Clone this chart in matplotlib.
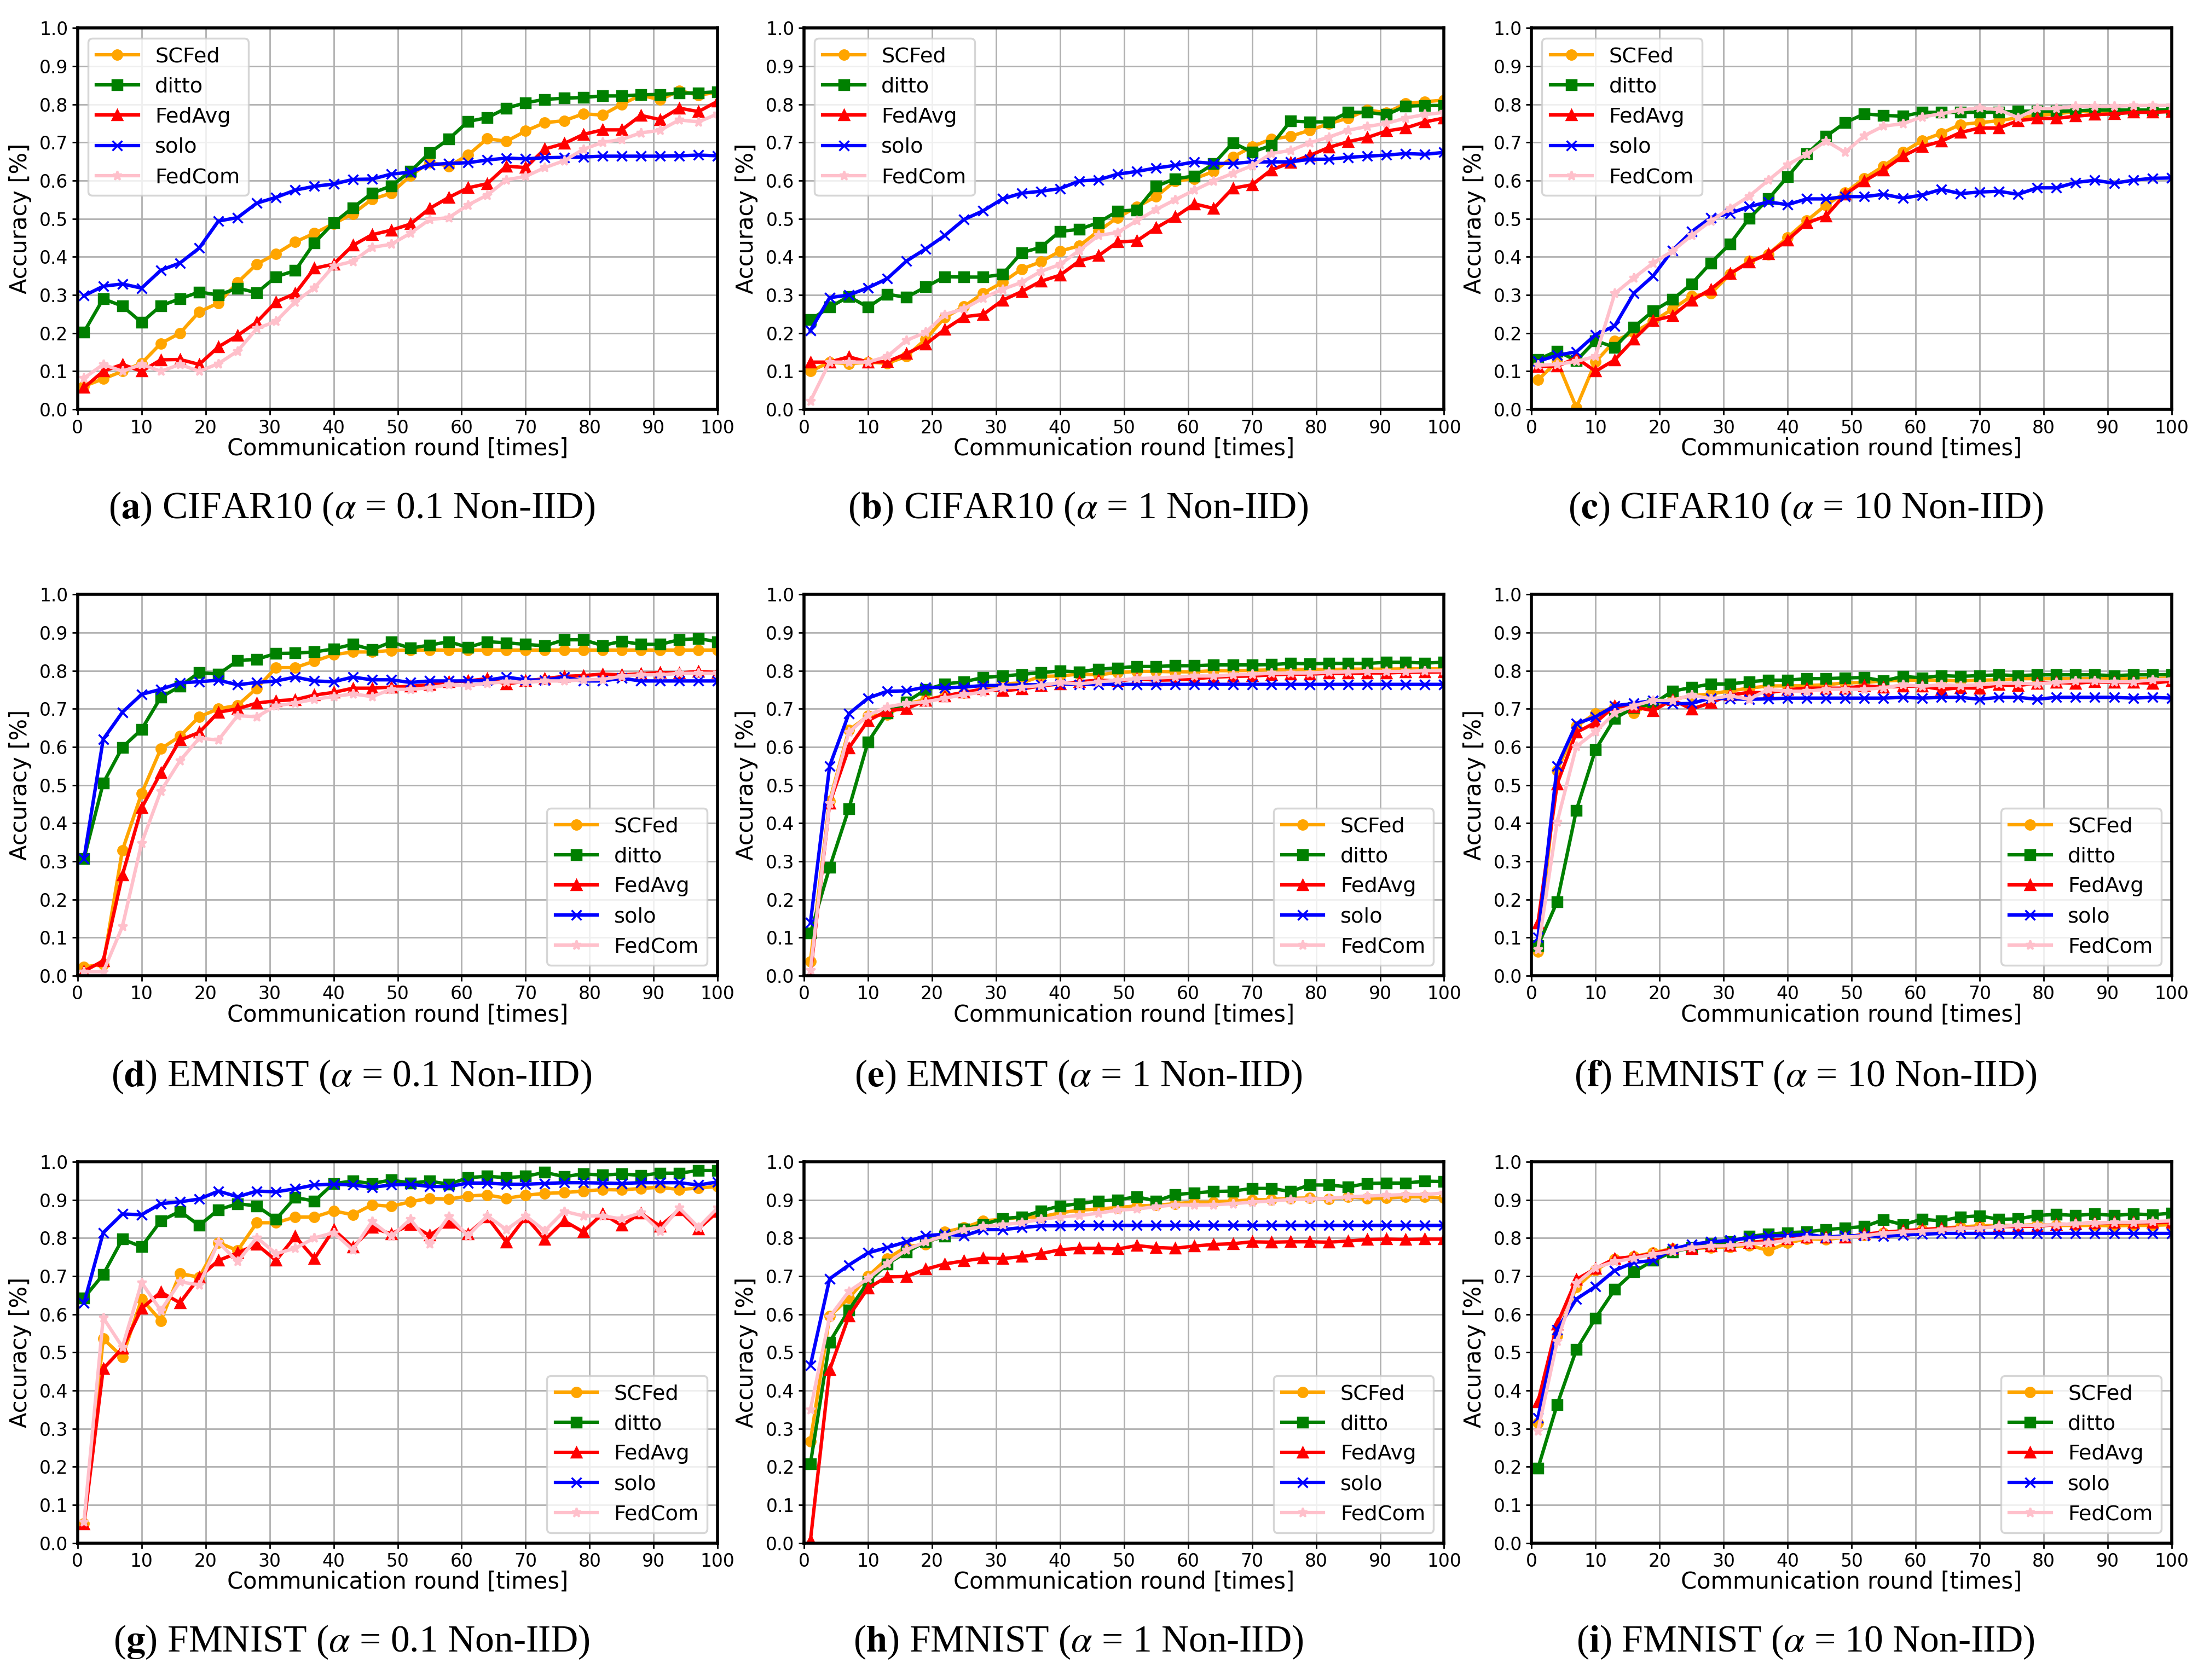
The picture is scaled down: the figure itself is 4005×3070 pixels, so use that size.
import numpy as np
import matplotlib
matplotlib.use("Agg")
import matplotlib.pyplot as plt

rounds = list(range(1, 101, 3))
methods = ["SCFed", "ditto", "FedAvg", "solo", "FedCom"]

# (a) CIFAR10 alpha=0.1
a_scfed = [0.061, 0.08, 0.10, 0.121, 0.173, 0.20, 0.256, 0.279, 0.333, 0.381, 0.408, 0.439, 0.462, 0.487, 0.513, 0.551, 0.567,
           0.613, 0.648, 0.638, 0.667, 0.71, 0.703, 0.73, 0.752, 0.757, 0.775, 0.772, 0.80, 0.824, 0.812, 0.836, 0.824, 0.832]
a_ditto = [0.203, 0.29, 0.271, 0.228, 0.272, 0.29, 0.308, 0.30, 0.318, 0.306, 0.348, 0.364, 0.437, 0.489, 0.529, 0.567, 0.586,
           0.624, 0.673, 0.709, 0.755, 0.765, 0.79, 0.804, 0.813, 0.816, 0.818, 0.822, 0.822, 0.825, 0.826, 0.829, 0.83, 0.833]
a_fedavg = [0.057, 0.10, 0.118, 0.10, 0.13, 0.131, 0.118, 0.164, 0.194, 0.229, 0.282, 0.304, 0.37, 0.381, 0.43, 0.458, 0.47,
            0.486, 0.527, 0.556, 0.581, 0.592, 0.638, 0.634, 0.683, 0.697, 0.721, 0.733, 0.733, 0.771, 0.76, 0.79, 0.781, 0.808]
a_solo = [0.298, 0.323, 0.329, 0.318, 0.365, 0.384, 0.423, 0.494, 0.503, 0.541, 0.556, 0.575, 0.585, 0.591, 0.603, 0.604, 0.617,
          0.622, 0.642, 0.645, 0.647, 0.654, 0.659, 0.657, 0.66, 0.661, 0.662, 0.664, 0.664, 0.664, 0.664, 0.665, 0.667, 0.665]
a_fedcom = [0.082, 0.118, 0.10, 0.118, 0.10, 0.118, 0.10, 0.12, 0.153, 0.212, 0.231, 0.282, 0.319, 0.376, 0.388, 0.425, 0.433,
            0.462, 0.498, 0.503, 0.536, 0.562, 0.602, 0.611, 0.634, 0.652, 0.682, 0.70, 0.708, 0.725, 0.732, 0.759, 0.754, 0.775]

# (b) CIFAR10 alpha=1
b_scfed = [0.10, 0.124, 0.12, 0.124, 0.121, 0.139, 0.184, 0.241, 0.27, 0.305, 0.333, 0.368, 0.387, 0.415, 0.429, 0.468, 0.503,
           0.531, 0.558, 0.599, 0.605, 0.624, 0.662, 0.689, 0.709, 0.716, 0.732, 0.749, 0.764, 0.785, 0.778, 0.802, 0.807, 0.811]
b_ditto = [0.235, 0.268, 0.296, 0.268, 0.302, 0.294, 0.321, 0.348, 0.347, 0.347, 0.354, 0.411, 0.425, 0.467, 0.472, 0.49, 0.52,
           0.523, 0.585, 0.605, 0.612, 0.644, 0.699, 0.675, 0.692, 0.756, 0.754, 0.754, 0.779, 0.779, 0.773, 0.795, 0.797, 0.797]
b_fedavg = [0.124, 0.124, 0.138, 0.124, 0.125, 0.146, 0.171, 0.21, 0.243, 0.249, 0.286, 0.309, 0.336, 0.352, 0.389, 0.403, 0.439,
            0.442, 0.476, 0.505, 0.539, 0.527, 0.58, 0.589, 0.628, 0.647, 0.666, 0.687, 0.702, 0.713, 0.73, 0.738, 0.754, 0.764]
b_solo = [0.207, 0.293, 0.30, 0.319, 0.343, 0.389, 0.421, 0.456, 0.498, 0.521, 0.552, 0.567, 0.572, 0.579, 0.599, 0.602, 0.617,
          0.624, 0.633, 0.64, 0.649, 0.645, 0.645, 0.649, 0.649, 0.649, 0.656, 0.656, 0.661, 0.664, 0.667, 0.671, 0.669, 0.674]
b_fedcom = [0.022, 0.124, 0.124, 0.124, 0.139, 0.181, 0.202, 0.249, 0.264, 0.292, 0.315, 0.333, 0.362, 0.38, 0.417, 0.456, 0.464,
            0.495, 0.524, 0.55, 0.575, 0.599, 0.619, 0.639, 0.671, 0.679, 0.699, 0.714, 0.732, 0.742, 0.75, 0.764, 0.773, 0.779]

# (c) CIFAR10 alpha=10
c_scfed = [0.077, 0.126, 0.005, 0.125, 0.18, 0.202, 0.231, 0.263, 0.297, 0.304, 0.354, 0.389, 0.407, 0.451, 0.495, 0.536, 0.568,
           0.606, 0.638, 0.674, 0.705, 0.724, 0.747, 0.752, 0.757, 0.765, 0.771, 0.775, 0.781, 0.781, 0.781, 0.781, 0.782, 0.782]
c_ditto = [0.131, 0.153, 0.128, 0.18, 0.163, 0.216, 0.258, 0.288, 0.329, 0.384, 0.434, 0.501, 0.552, 0.61, 0.67, 0.716, 0.752,
           0.775, 0.771, 0.769, 0.779, 0.779, 0.779, 0.779, 0.779, 0.782, 0.782, 0.782, 0.783, 0.785, 0.785, 0.785, 0.785, 0.786]
c_fedavg = [0.112, 0.113, 0.135, 0.10, 0.13, 0.184, 0.233, 0.245, 0.286, 0.315, 0.356, 0.386, 0.408, 0.444, 0.489, 0.507, 0.564,
            0.599, 0.628, 0.664, 0.689, 0.703, 0.726, 0.738, 0.738, 0.757, 0.763, 0.763, 0.769, 0.773, 0.775, 0.779, 0.779, 0.781]
c_solo = [0.126, 0.142, 0.151, 0.196, 0.219, 0.305, 0.35, 0.417, 0.466, 0.503, 0.514, 0.532, 0.544, 0.537, 0.552, 0.552, 0.558,
          0.558, 0.564, 0.554, 0.562, 0.577, 0.566, 0.57, 0.572, 0.564, 0.581, 0.581, 0.595, 0.601, 0.593, 0.601, 0.606, 0.607]
c_fedcom = [0.116, 0.118, 0.126, 0.139, 0.304, 0.345, 0.384, 0.415, 0.456, 0.494, 0.527, 0.559, 0.601, 0.642, 0.669, 0.704, 0.674,
            0.718, 0.743, 0.749, 0.767, 0.775, 0.785, 0.791, 0.786, 0.765, 0.789, 0.789, 0.795, 0.795, 0.795, 0.797, 0.797, 0.797]

# (d) EMNIST alpha=0.1
d_scfed = [0.023, 0.03, 0.329, 0.478, 0.595, 0.628, 0.679, 0.70, 0.709, 0.754, 0.808, 0.808, 0.825, 0.842, 0.849, 0.849, 0.853,
           0.854, 0.854, 0.854, 0.854, 0.854, 0.854, 0.854, 0.854, 0.854, 0.854, 0.854, 0.854, 0.854, 0.854, 0.854, 0.854, 0.854]
d_ditto = [0.307, 0.505, 0.599, 0.646, 0.73, 0.759, 0.795, 0.791, 0.826, 0.83, 0.845, 0.846, 0.849, 0.857, 0.869, 0.855, 0.875,
           0.859, 0.867, 0.876, 0.861, 0.876, 0.873, 0.869, 0.865, 0.881, 0.881, 0.866, 0.877, 0.869, 0.869, 0.881, 0.884, 0.876]
d_fedavg = [0.012, 0.039, 0.264, 0.44, 0.532, 0.618, 0.638, 0.691, 0.70, 0.715, 0.721, 0.724, 0.736, 0.743, 0.754, 0.754, 0.757,
            0.759, 0.763, 0.771, 0.773, 0.779, 0.765, 0.773, 0.779, 0.785, 0.787, 0.791, 0.789, 0.792, 0.795, 0.794, 0.798, 0.795]
d_solo = [0.307, 0.62, 0.691, 0.738, 0.751, 0.768, 0.771, 0.775, 0.763, 0.769, 0.773, 0.783, 0.773, 0.771, 0.783, 0.776, 0.776,
          0.769, 0.773, 0.773, 0.773, 0.775, 0.783, 0.776, 0.775, 0.783, 0.773, 0.773, 0.78, 0.773, 0.773, 0.773, 0.773, 0.773]
d_fedcom = [0.01, 0.01, 0.129, 0.348, 0.484, 0.564, 0.623, 0.618, 0.682, 0.679, 0.708, 0.715, 0.725, 0.732, 0.739, 0.732, 0.751,
            0.751, 0.755, 0.763, 0.761, 0.767, 0.771, 0.769, 0.773, 0.773, 0.776, 0.777, 0.785, 0.789, 0.789, 0.793, 0.793, 0.793]

# (e) EMNIST alpha=1
e_scfed = [0.038, 0.458, 0.644, 0.681, 0.685, 0.713, 0.724, 0.734, 0.742, 0.75, 0.765, 0.768, 0.785, 0.786, 0.791, 0.789, 0.795,
           0.798, 0.798, 0.797, 0.797, 0.80, 0.80, 0.801, 0.802, 0.803, 0.803, 0.803, 0.804, 0.804, 0.804, 0.805, 0.805, 0.805]
e_ditto = [0.112, 0.284, 0.438, 0.613, 0.689, 0.718, 0.75, 0.765, 0.771, 0.782, 0.786, 0.79, 0.795, 0.799, 0.797, 0.804, 0.807,
           0.811, 0.811, 0.813, 0.813, 0.815, 0.815, 0.815, 0.816, 0.819, 0.818, 0.819, 0.819, 0.819, 0.822, 0.822, 0.82, 0.822]
e_fedavg = [0.005, 0.452, 0.597, 0.669, 0.695, 0.70, 0.722, 0.734, 0.743, 0.752, 0.747, 0.752, 0.76, 0.765, 0.771, 0.775, 0.773,
            0.779, 0.775, 0.776, 0.779, 0.783, 0.785, 0.786, 0.789, 0.791, 0.791, 0.793, 0.793, 0.794, 0.794, 0.796, 0.796, 0.797]
e_solo = [0.139, 0.55, 0.687, 0.728, 0.746, 0.747, 0.757, 0.755, 0.757, 0.761, 0.761, 0.763, 0.763, 0.765, 0.764, 0.764, 0.764,
          0.764, 0.764, 0.764, 0.764, 0.764, 0.764, 0.764, 0.764, 0.764, 0.764, 0.764, 0.764, 0.764, 0.764, 0.764, 0.764, 0.764]
e_fedcom = [0.014, 0.452, 0.638, 0.683, 0.705, 0.714, 0.718, 0.728, 0.737, 0.744, 0.755, 0.757, 0.761, 0.769, 0.765, 0.771, 0.775,
            0.779, 0.781, 0.783, 0.786, 0.786, 0.789, 0.791, 0.793, 0.794, 0.794, 0.796, 0.797, 0.798, 0.798, 0.798, 0.80, 0.80]

# (f) EMNIST alpha=10
f_scfed = [0.063, 0.538, 0.654, 0.688, 0.704, 0.689, 0.716, 0.724, 0.734, 0.739, 0.747, 0.754, 0.76, 0.76, 0.761, 0.763, 0.768,
           0.769, 0.773, 0.775, 0.775, 0.775, 0.773, 0.775, 0.776, 0.779, 0.779, 0.779, 0.779, 0.779, 0.779, 0.779, 0.779, 0.781]
f_ditto = [0.079, 0.194, 0.434, 0.593, 0.675, 0.703, 0.713, 0.746, 0.756, 0.765, 0.765, 0.771, 0.775, 0.775, 0.779, 0.779, 0.781,
           0.782, 0.773, 0.785, 0.781, 0.787, 0.785, 0.787, 0.789, 0.787, 0.789, 0.789, 0.789, 0.789, 0.787, 0.789, 0.789, 0.79]
f_fedavg = [0.138, 0.503, 0.638, 0.664, 0.707, 0.705, 0.695, 0.724, 0.699, 0.716, 0.736, 0.743, 0.742, 0.75, 0.754, 0.754, 0.754,
            0.76, 0.757, 0.759, 0.759, 0.751, 0.755, 0.754, 0.763, 0.761, 0.767, 0.769, 0.767, 0.771, 0.769, 0.769, 0.767, 0.773]
f_solo = [0.10, 0.55, 0.661, 0.679, 0.708, 0.714, 0.722, 0.713, 0.714, 0.728, 0.726, 0.725, 0.726, 0.728, 0.728, 0.728, 0.728,
          0.728, 0.728, 0.73, 0.728, 0.73, 0.73, 0.725, 0.73, 0.73, 0.725, 0.73, 0.73, 0.73, 0.73, 0.728, 0.73, 0.728]
f_fedcom = [0.069, 0.403, 0.601, 0.64, 0.689, 0.708, 0.722, 0.722, 0.736, 0.726, 0.734, 0.725, 0.751, 0.746, 0.746, 0.751, 0.751,
            0.751, 0.755, 0.763, 0.759, 0.763, 0.761, 0.763, 0.767, 0.767, 0.765, 0.769, 0.773, 0.773, 0.771, 0.771, 0.776, 0.777]

# (g) FMNIST alpha=0.1
g_scfed = [0.052, 0.536, 0.488, 0.64, 0.583, 0.707, 0.697, 0.788, 0.767, 0.84, 0.84, 0.855, 0.855, 0.871, 0.861, 0.887, 0.883,
           0.895, 0.904, 0.902, 0.91, 0.913, 0.904, 0.912, 0.917, 0.919, 0.923, 0.927, 0.926, 0.93, 0.933, 0.927, 0.931, 0.935]
g_ditto = [0.643, 0.704, 0.797, 0.777, 0.845, 0.87, 0.833, 0.874, 0.89, 0.884, 0.849, 0.906, 0.897, 0.943, 0.949, 0.943, 0.952,
           0.944, 0.949, 0.941, 0.958, 0.962, 0.958, 0.962, 0.972, 0.961, 0.968, 0.965, 0.968, 0.964, 0.97, 0.97, 0.977, 0.977]
g_fedavg = [0.05, 0.457, 0.511, 0.615, 0.658, 0.63, 0.697, 0.741, 0.761, 0.783, 0.741, 0.804, 0.746, 0.822, 0.776, 0.827, 0.811,
            0.835, 0.807, 0.841, 0.811, 0.855, 0.789, 0.855, 0.796, 0.845, 0.816, 0.864, 0.833, 0.865, 0.831, 0.873, 0.824, 0.869]
g_solo = [0.629, 0.814, 0.863, 0.861, 0.89, 0.895, 0.902, 0.923, 0.908, 0.923, 0.921, 0.929, 0.939, 0.941, 0.939, 0.933, 0.939,
          0.941, 0.935, 0.935, 0.944, 0.944, 0.941, 0.941, 0.943, 0.945, 0.945, 0.944, 0.943, 0.945, 0.945, 0.945, 0.939, 0.947]
g_fedcom = [0.055, 0.591, 0.514, 0.683, 0.61, 0.685, 0.677, 0.789, 0.738, 0.801, 0.759, 0.773, 0.80, 0.814, 0.769, 0.843, 0.804,
            0.849, 0.785, 0.857, 0.806, 0.858, 0.822, 0.858, 0.819, 0.87, 0.858, 0.858, 0.85, 0.866, 0.818, 0.879, 0.828, 0.879]

# (h) FMNIST alpha=1
h_scfed = [0.267, 0.595, 0.642, 0.70, 0.746, 0.777, 0.783, 0.816, 0.827, 0.845, 0.849, 0.855, 0.855, 0.866, 0.873, 0.876, 0.88,
           0.884, 0.886, 0.89, 0.894, 0.894, 0.897, 0.90, 0.901, 0.904, 0.905, 0.902, 0.908, 0.904, 0.905, 0.908, 0.908, 0.905]
h_ditto = [0.208, 0.527, 0.611, 0.685, 0.732, 0.763, 0.79, 0.804, 0.824, 0.835, 0.851, 0.855, 0.871, 0.884, 0.89, 0.897, 0.90,
           0.908, 0.897, 0.914, 0.918, 0.922, 0.923, 0.93, 0.93, 0.922, 0.939, 0.939, 0.934, 0.943, 0.944, 0.944, 0.949, 0.948]
h_fedavg = [0.007, 0.454, 0.595, 0.669, 0.698, 0.699, 0.718, 0.732, 0.74, 0.747, 0.746, 0.751, 0.759, 0.769, 0.773, 0.773, 0.771,
            0.78, 0.775, 0.773, 0.779, 0.783, 0.785, 0.79, 0.789, 0.79, 0.79, 0.789, 0.792, 0.796, 0.797, 0.796, 0.797, 0.797]
h_solo = [0.466, 0.693, 0.729, 0.761, 0.775, 0.79, 0.806, 0.81, 0.806, 0.822, 0.822, 0.827, 0.832, 0.832, 0.833, 0.833, 0.833,
          0.833, 0.833, 0.833, 0.833, 0.833, 0.833, 0.833, 0.833, 0.833, 0.833, 0.833, 0.833, 0.833, 0.833, 0.833, 0.833, 0.833]
h_fedcom = [0.35, 0.593, 0.66, 0.694, 0.733, 0.769, 0.79, 0.806, 0.822, 0.83, 0.835, 0.84, 0.849, 0.855, 0.859, 0.865, 0.873,
            0.876, 0.882, 0.887, 0.886, 0.887, 0.89, 0.894, 0.897, 0.901, 0.902, 0.904, 0.908, 0.91, 0.912, 0.914, 0.914, 0.918]

# (i) FMNIST alpha=10
i_scfed = [0.316, 0.543, 0.671, 0.716, 0.745, 0.751, 0.762, 0.772, 0.772, 0.775, 0.776, 0.781, 0.767, 0.787, 0.798, 0.796, 0.802,
           0.808, 0.814, 0.818, 0.822, 0.826, 0.829, 0.832, 0.833, 0.833, 0.835, 0.833, 0.833, 0.833, 0.832, 0.833, 0.833, 0.835]
i_ditto = [0.196, 0.363, 0.507, 0.59, 0.665, 0.711, 0.741, 0.763, 0.775, 0.785, 0.79, 0.804, 0.81, 0.814, 0.816, 0.822, 0.826,
           0.83, 0.848, 0.835, 0.849, 0.845, 0.855, 0.858, 0.849, 0.85, 0.859, 0.862, 0.859, 0.863, 0.859, 0.863, 0.861, 0.865]
i_fedavg = [0.37, 0.574, 0.691, 0.72, 0.746, 0.751, 0.759, 0.771, 0.771, 0.779, 0.78, 0.788, 0.793, 0.798, 0.802, 0.802, 0.802,
            0.81, 0.815, 0.819, 0.822, 0.825, 0.826, 0.827, 0.83, 0.83, 0.831, 0.835, 0.837, 0.839, 0.84, 0.84, 0.84, 0.841]
i_solo = [0.329, 0.56, 0.64, 0.673, 0.715, 0.736, 0.741, 0.771, 0.783, 0.79, 0.794, 0.80, 0.806, 0.806, 0.81, 0.802, 0.806,
          0.806, 0.804, 0.808, 0.81, 0.812, 0.812, 0.812, 0.812, 0.812, 0.812, 0.812, 0.812, 0.812, 0.812, 0.812, 0.812, 0.812]
i_fedcom = [0.294, 0.529, 0.681, 0.722, 0.738, 0.747, 0.757, 0.765, 0.775, 0.779, 0.78, 0.785, 0.787, 0.794, 0.801, 0.801, 0.802,
            0.806, 0.812, 0.816, 0.818, 0.822, 0.825, 0.826, 0.83, 0.833, 0.833, 0.835, 0.837, 0.839, 0.841, 0.841, 0.843, 0.845]

panel_letters = ["a", "b", "c", "d", "e", "f", "g", "h", "i"]
datasets = ["CIFAR10", "CIFAR10", "CIFAR10", "EMNIST", "EMNIST", "EMNIST", "FMNIST", "FMNIST", "FMNIST"]
alphas = ["0.1", "1", "10", "0.1", "1", "10", "0.1", "1", "10"]

panels = [
    [a_scfed, a_ditto, a_fedavg, a_solo, a_fedcom],
    [b_scfed, b_ditto, b_fedavg, b_solo, b_fedcom],
    [c_scfed, c_ditto, c_fedavg, c_solo, c_fedcom],
    [d_scfed, d_ditto, d_fedavg, d_solo, d_fedcom],
    [e_scfed, e_ditto, e_fedavg, e_solo, e_fedcom],
    [f_scfed, f_ditto, f_fedavg, f_solo, f_fedcom],
    [g_scfed, g_ditto, g_fedavg, g_solo, g_fedcom],
    [h_scfed, h_ditto, h_fedavg, h_solo, h_fedcom],
    [i_scfed, i_ditto, i_fedavg, i_solo, i_fedcom],
]

colors = ["orange", "green", "red", "blue", "pink"]
markers = ["o", "s", "^", "x", "*"]

plt.rcParams['mathtext.fontset'] = 'stix'

fig = plt.figure(figsize=(16.02, 12.28), dpi=250)

col_left = [0.0354, 0.3668, 0.6987]
row_bottom = [0.7563, 0.4192, 0.0815]
cap_y = [0.697, 0.359, 0.0225]
ax_w, ax_h = 0.292, 0.227

for k, series in enumerate(panels):
    r, c = divmod(k, 3)
    ax = fig.add_axes([col_left[c], row_bottom[r], ax_w, ax_h])
    for vals, name, col, mk in zip(series, methods, colors, markers):
        ax.plot(rounds, vals, color=col, marker=mk, markersize=5, linewidth=1.8, label=name)
    ax.set_xlim(0, 100)
    ax.set_ylim(0, 1.0)
    ax.set_xticks(np.arange(0, 101, 10))
    ax.set_yticks(np.arange(0, 1.01, 0.1))
    ax.set_yticklabels(["%.1f" % v for v in np.arange(0, 1.01, 0.1)])
    ax.tick_params(labelsize=9.5, length=3, pad=2)
    ax.grid(True, color="#b0b0b0", linewidth=0.8)
    for sp in ax.spines.values():
        sp.set_linewidth(1.6)
    ax.set_xlabel("Communication round [times]", fontsize=12, labelpad=0)
    ax.set_ylabel("Accuracy [%]", fontsize=12, labelpad=4)
    loc = "upper left" if r == 0 else "lower right"
    ax.legend(loc=loc, fontsize=11, handlelength=2.0)
    cap = r"($\mathbf{%s}$) %s ($\alpha$ = %s Non-IID)" % (panel_letters[k], datasets[k], alphas[k])
    fig.text(col_left[c] + 0.125, cap_y[r], cap, ha="center", va="center",
             fontsize=20, family=["Liberation Serif", "DejaVu Serif"])

fig.savefig("out.png", dpi=250)
